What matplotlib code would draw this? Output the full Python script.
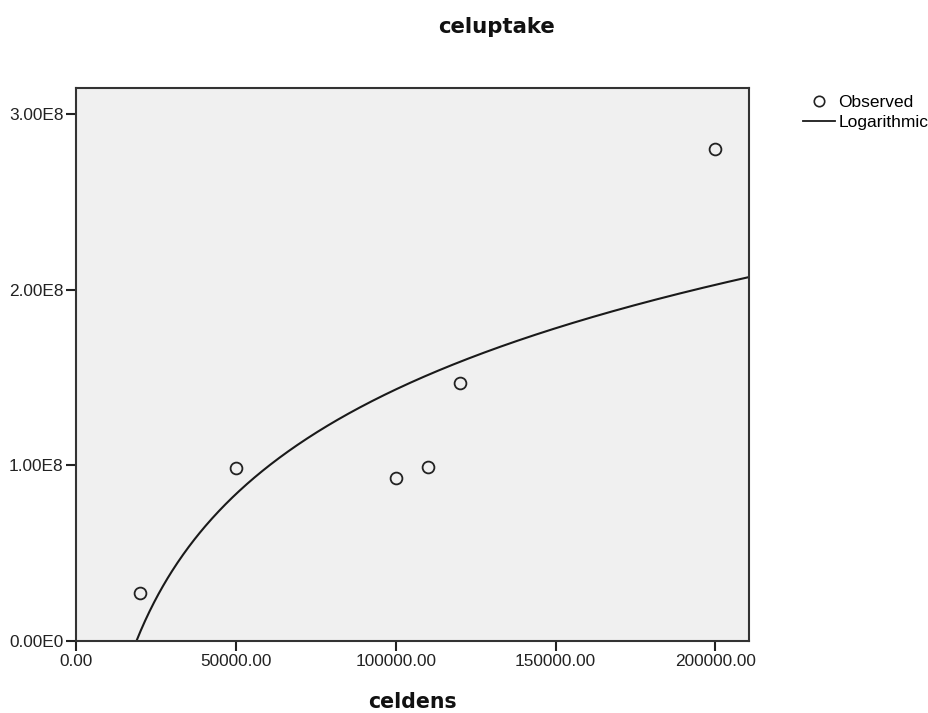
import numpy as np
import matplotlib
matplotlib.use("Agg")
import matplotlib.pyplot as plt
from matplotlib.lines import Line2D
from matplotlib.ticker import FuncFormatter

plt.rcParams['font.family'] = ['Liberation Sans', 'DejaVu Sans']

celdens = [20000, 50000, 100000, 110000, 120000, 200000]
celuptake = [0.272e8, 0.987e8, 0.928e8, 0.989e8, 1.468e8, 2.802e8]

x_ticks = [0, 50000, 100000, 150000, 200000]
y_ticks = [0, 1e8, 2e8, 3e8]

# logarithmic fit  y = a + b*ln(x)
b, a = np.polyfit(np.log(celdens), celuptake, 1)

fig = plt.figure(figsize=(9.29, 7.13), dpi=100)
ax = fig.add_axes([0.0818, 0.101, 0.7245, 0.7756])
ax.set_facecolor('#f0f0f0')

xmax = 210500
xs = np.linspace(1000, xmax, 600)
ys = a + b * np.log(xs)
ax.plot(xs, ys, color='#1a1a1a', lw=1.5)
ax.plot(celdens, celuptake, 'o', mfc='none', mec='#222222', mew=1.3, ms=8.5)

ax.set_xlim(0, xmax)
ax.set_ylim(0, 3.148e8)
ax.set_xticks(x_ticks)
ax.set_yticks(y_ticks)
ax.xaxis.set_major_formatter(FuncFormatter(lambda v, p: '%.2f' % v))

def sci(v, p):
    if v == 0:
        return '0.00E0'
    e = int(np.floor(np.log10(abs(v))))
    return '%.2fE%d' % (v / 10 ** e, e)

ax.yaxis.set_major_formatter(FuncFormatter(sci))
ax.tick_params(axis='both', direction='out', length=7.5, width=1.5, color='#222222',
               labelsize=12.4, labelcolor='#222222')
ax.tick_params(axis='x', pad=2)
ax.tick_params(axis='y', pad=1.5)
for s in ax.spines.values():
    s.set_color('#333333')
    s.set_linewidth(1.5)

# title and axis label
fig.text(497 / 929, 1 - 33 / 713, 'celuptake', ha='center', va='baseline',
         fontsize=15.3, fontweight='bold', family='DejaVu Sans', color='#111111')
fig.text(412 / 929, 1 - 708 / 713, 'celdens', ha='center', va='baseline',
         fontsize=14.8, fontweight='bold', family='DejaVu Sans', color='#111111')

handles = [
    Line2D([], [], marker='o', ls='none', mfc='none', mec='#222222', mew=1.2, ms=7.5),
    Line2D([], [], color='#1a1a1a', lw=1.3),
]
fig.legend(handles, ['Observed', 'Logarithmic'], loc='upper left',
           bbox_to_anchor=(803 / 929, 1 - 95 / 713), frameon=False, fontsize=12.5,
           handlelength=1.85, handletextpad=0.2, labelspacing=0.27,
           borderaxespad=0, borderpad=0)

fig.savefig('out.png', dpi=100)
